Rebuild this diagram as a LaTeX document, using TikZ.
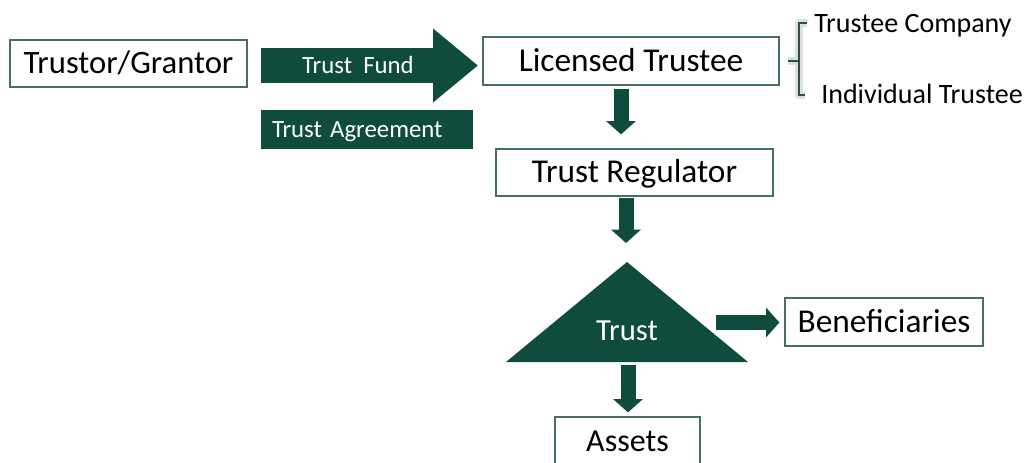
\documentclass[tikz,border=0pt]{standalone}
\usepackage{fontspec}
\setmainfont{Carlito}
\definecolor{trustgreen}{RGB}{15,76,62}
\definecolor{boxline}{RGB}{70,110,100}
\usetikzlibrary{arrows.meta,positioning,calc}

\tikzset{
	box/.style={draw=boxline, line width=0.9pt, fill=white, inner sep=0pt, text height=15.7pt, text depth=0pt, font=\fontsize{25}{30}\selectfont},
	greenbox/.style={fill=trustgreen, text=white, inner sep=0pt, text height=11.7pt, text depth=0pt, font=\fontsize{18.6}{22}\selectfont},
	trustlabel/.style={text=white, inner sep=0pt, text height=14.5pt, text depth=0pt, font=\fontsize{23}{28}\selectfont},
	sidelabel/.style={inner sep=0pt, anchor=base west, font=\fontsize{21}{25}\selectfont},
	blockarrow/.style={draw=trustgreen, line width=11.25pt, -{Triangle[width=21.75pt,length=10pt]}},
	fundarrow/.style={draw=trustgreen, line width=26.25pt, -{Triangle[width=53.25pt,length=33.75pt]}},
	bracket/.style={draw=boxline!70!black, line width=1.6pt},
	bracketglow/.style={draw=boxline!45, line width=6pt, opacity=0.45, line join=round}
}

\begin{document}
\begin{tikzpicture}[x=0.75pt,y=0.75pt,yscale=-1,xscale=1]
	%set diagram to 1027 x 462
	\clip (0,0) rectangle (1027,462);
	\fill[white] (0,0) rectangle (1027,462);
	
	% Boxes
	\node[box, font=\fontsize{24.5}{30}\selectfont, minimum width=177.75pt, minimum height=35.25pt] (trustor) at (128.5,63.5) {Trustor/Grantor};
	\node[box, minimum width=222pt, minimum height=36pt] (licensed) at (631,61) {Licensed Trustee};
	\node[box, minimum width=207.75pt, minimum height=35.25pt] (regulator) at (634.5,172.5) {Trust Regulator};
	\node[box, minimum width=148.5pt, minimum height=36pt] (beneficiaries) at (884,322) {Beneficiaries};
	\node[box, font=\fontsize{24}{30}\selectfont, text height=15.1pt, minimum width=108.75pt, minimum height=36pt] (assets) at (627.5,441) {Assets};
	
	% Trust fund arrow
	\coordinate (fundtail) at (261,65.5);
	\coordinate (fundtip) at (478,65.5);
	\draw[fundarrow] (fundtail) -- (fundtip);
	\node[greenbox] (fund) at (358,65.5) {Trust\ \ Fund};
	
	% Text Node
	\node[greenbox, minimum height=29.25pt, text width=142.5pt, inner xsep=8.25pt, align=left] (agreement) at (367,129.5) {Trust Agreement};
	
	%Shape: Triangle
	\coordinate (apex) at (627,262);
	\fill[trustgreen] (apex) -- (506,362) -- (748,362) -- cycle;
	\node[trustlabel] (trust) at (627,331) {Trust};
	
	% Down and side arrows
	\draw[blockarrow] ($(licensed.south)+(-10,3)$) -- ($(regulator.north)+(-13.5,-14)$);
	\draw[blockarrow] ($(regulator.south)+(-8.5,1)$) -- ($(apex)+(-1,-19)$);
	\coordinate (trustright) at (716,322.5);
	\draw[blockarrow] (trustright) -- ($(beneficiaries.west)+(-5,0.5)$);
	\coordinate (trustbase) at (628,365);
	\draw[blockarrow] (trustbase) -- ($(assets.north)+(0.5,-4)$);
	
	% Trustee types
	\node[sidelabel] (company) at (814,32) {Trustee Company};
	\node[sidelabel] (individual) at (821,103) {Individual Trustee};
	\draw[bracketglow] (807,23) -- (799,23) -- (799,95) -- (805,95) (788,61) -- (799,61);
	\draw[bracket] (807,23) -- (799,23) -- (799,95) -- (805,95) (788,61) -- (799,61);
	
\end{tikzpicture}
\end{document}
